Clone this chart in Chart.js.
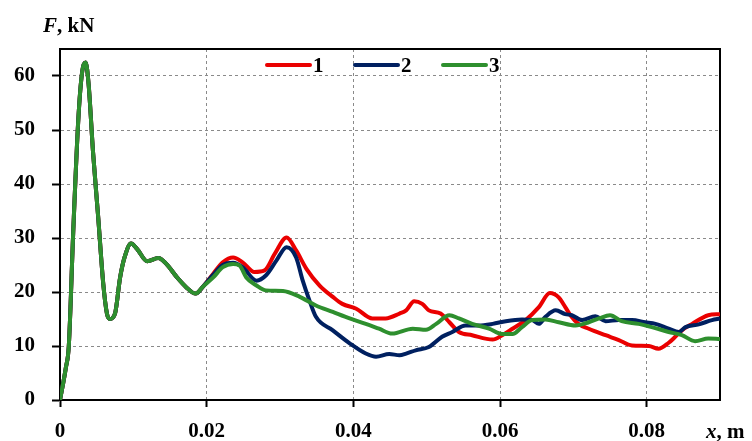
<!DOCTYPE html>
<html>
<head>
<meta charset="utf-8">
<script src="https://cdn.jsdelivr.net/npm/chart.js@4/dist/chart.umd.min.js"></script>
<style>
  html, body { margin: 0; padding: 0; background: #fff; }
  #wrap { width: 752px; height: 441px; }
</style>
</head>
<body>
<div id="wrap"><canvas id="c" width="752" height="441"></canvas></div>
<script>
// ---- data ----
const seriesNames = ['1', '2', '3'];
const seriesColors = ['#ea0000', '#002060', '#2e8f2e'];

// shared beginning of all three curves
const commonX = [0, 0.0008, 0.0012, 0.0018, 0.0025, 0.003, 0.0035, 0.0039, 0.0045, 0.0052, 0.0059, 0.0064, 0.0068, 0.0075, 0.0082, 0.0088, 0.0097, 0.0105, 0.0119, 0.0134, 0.0145, 0.0159, 0.0172, 0.0185, 0.0195];
const commonF = [0, 6, 10, 31, 52, 60.5, 62.5, 58.5, 46, 34, 21.5, 16, 15, 16, 22.7, 26.4, 29, 28, 25.7, 26.3, 25.2, 22.8, 20.9, 19.7, 21];

// curve 1 (red)
const x1 = [0.0209, 0.0222, 0.0236, 0.0249, 0.0265, 0.0279, 0.0293, 0.0309, 0.0322, 0.0336, 0.0354, 0.0372, 0.0385, 0.0404, 0.0426, 0.0444, 0.0463, 0.0472, 0.0483, 0.0494, 0.0503, 0.0519, 0.0531, 0.0544, 0.0562, 0.059, 0.0603, 0.0617, 0.0635, 0.0653, 0.0668, 0.068, 0.0689, 0.0696, 0.0707, 0.0721, 0.0744, 0.0762, 0.078, 0.0803, 0.0816, 0.083, 0.0839, 0.0848, 0.0862, 0.0884, 0.09];
const f1 = [23.4, 25.5, 26.4, 25.5, 23.7, 24, 27.1, 30.1, 27.7, 24.3, 21.2, 19.1, 17.8, 16.9, 15.1, 15.1, 16, 16.6, 18.3, 17.8, 16.6, 16, 14.4, 12.6, 12, 11.2, 12, 13.2, 14.8, 17.2, 19.8, 19, 17.2, 15.7, 14.1, 13.2, 12, 11.1, 10.1, 10, 9.5, 10.6, 11.7, 12.9, 14.1, 15.7, 15.9];

// curve 2 (blue)
const x2 = [0.0209, 0.0222, 0.0236, 0.0249, 0.0268, 0.0281, 0.0295, 0.0309, 0.0322, 0.0331, 0.034, 0.0349, 0.0372, 0.0395, 0.0417, 0.0431, 0.0449, 0.0463, 0.0472, 0.0485, 0.0503, 0.0521, 0.0535, 0.0553, 0.0571, 0.059, 0.0608, 0.063, 0.0644, 0.0653, 0.0662, 0.0676, 0.0689, 0.0698, 0.0712, 0.073, 0.0744, 0.0762, 0.078, 0.0798, 0.0812, 0.083, 0.0844, 0.0853, 0.0871, 0.0889, 0.09];
const f2 = [23.2, 25, 25.4, 24.6, 22.1, 23.1, 25.8, 28.3, 26.4, 22.1, 18.5, 15.4, 12.9, 10.5, 8.6, 8.0, 8.5, 8.3, 8.6, 9.2, 9.8, 11.7, 12.6, 13.8, 13.8, 14.1, 14.6, 14.9, 14.8, 14.1, 15.4, 16.6, 15.9, 15.7, 14.8, 15.5, 14.6, 14.8, 14.8, 14.4, 14.1, 13.2, 12.6, 13.5, 14, 14.8, 15.1];

// curve 3 (green)
const x3 = [0.0209, 0.0222, 0.0236, 0.0245, 0.0254, 0.0268, 0.0281, 0.0304, 0.0327, 0.0349, 0.0372, 0.0395, 0.0417, 0.0435, 0.0453, 0.0481, 0.0499, 0.0513, 0.0531, 0.0544, 0.0562, 0.0585, 0.0603, 0.0617, 0.063, 0.0644, 0.0662, 0.068, 0.0703, 0.0721, 0.0735, 0.075, 0.0766, 0.0789, 0.0807, 0.083, 0.0848, 0.0866, 0.0884, 0.09];
const f3 = [22.7, 24.6, 25.2, 24.9, 22.7, 21.2, 20.3, 20.2, 19.1, 17.5, 16.3, 15.1, 14.1, 13.2, 12.3, 13.2, 13, 14.1, 15.7, 15.1, 14.1, 13.2, 12.2, 12.2, 13.5, 14.8, 14.9, 14.4, 13.8, 14.4, 15.1, 15.7, 14.6, 14.1, 13.5, 12.6, 12, 10.9, 11.4, 11.3];

const xTicks = [0, 0.02, 0.04, 0.06, 0.08];
const yTicks = [0, 10, 20, 30, 40, 50, 60];
const yLabel = ['F', ', kN'];
const xLabel = ['x', ', m'];

// ---- build ----
function pts(xs, ys) {
  const a = commonX.map((x, i) => ({ x: x, y: commonF[i] }));
  return a.concat(xs.map((x, i) => ({ x: x, y: ys[i] })));
}
const seriesData = [pts(x1, f1), pts(x2, f2), pts(x3, f3)];

const FONT = "'Liberation Serif', 'Times New Roman', serif";

const framePlugin = {
  id: 'frame',
  beforeDatasetsDraw(chart) {
    const { ctx, chartArea: a } = chart;
    ctx.save();
    ctx.strokeStyle = '#000';
    ctx.lineWidth = 2;
    ctx.strokeRect(a.left, a.top, a.right - a.left, a.bottom - a.top);
    ctx.restore();
  },
  afterDraw(chart) {
    const { ctx, chartArea: a } = chart;
    ctx.save();
    // legend inside plot area
    const startX = a.left + 207, lineLen = 43, step = 88, ly = a.top + 16;
    seriesNames.forEach((n, i) => {
      const x0 = startX + i * step;
      ctx.strokeStyle = seriesColors[i];
      ctx.lineWidth = 4;
      ctx.lineCap = 'round';
      ctx.beginPath();
      ctx.moveTo(x0, ly);
      ctx.lineTo(x0 + lineLen, ly);
      ctx.stroke();
      ctx.fillStyle = '#000';
      ctx.font = 'bold 21px ' + FONT;
      ctx.textBaseline = 'alphabetic';
      ctx.textAlign = 'left';
      ctx.fillText(n, x0 + lineLen + 3, ly + 7);
    });
    // axis labels
    ctx.fillStyle = '#000';
    ctx.textAlign = 'left';
    ctx.textBaseline = 'alphabetic';
    let x = 43;
    ctx.font = 'italic bold 21px ' + FONT;
    ctx.fillText(yLabel[0], x, 32);
    x += ctx.measureText(yLabel[0]).width;
    ctx.font = 'bold 21px ' + FONT;
    ctx.fillText(yLabel[1], x, 32);

    x = 706;
    ctx.font = 'italic bold 21px ' + FONT;
    ctx.fillText(xLabel[0], x, 438);
    x += ctx.measureText(xLabel[0]).width;
    ctx.font = 'bold 21px ' + FONT;
    ctx.fillText(xLabel[1], x, 438);
    ctx.restore();
  }
};

new Chart(document.getElementById('c'), {
  type: 'line',
  data: {
    datasets: seriesData.map((d, i) => ({
      label: seriesNames[i],
      data: d,
      borderColor: seriesColors[i],
      backgroundColor: seriesColors[i],
      borderWidth: 4,
      pointRadius: 0,
      fill: false,
      cubicInterpolationMode: 'monotone',
      order: 3 - i
    }))
  },
  options: {
    responsive: false,
    animation: false,
    events: [],
    layout: { padding: { left: 0, top: 49, right: 32, bottom: 0 } },
    plugins: { legend: { display: false }, tooltip: { enabled: false } },
    scales: {
      x: {
        type: 'linear',
        min: 0, max: 0.09,
        afterFit: s => { s.height = 41; },
        afterBuildTicks: s => { s.ticks = xTicks.map(v => ({ value: v })); },
        ticks: {
          autoSkip: false, maxRotation: 0, padding: 12,
          color: '#000',
          font: { family: FONT, size: 21, weight: 'bold' },
          callback: v => (Math.abs(v) < 1e-9 ? '0' : Number(v).toFixed(2))
        },
        grid: { color: '#8a8a8a', lineWidth: 1, tickLength: 7, tickColor: '#000', tickWidth: 2, tickBorderDash: [] },
        border: { display: true, color: '#000', width: 2, dash: [3, 3] }
      },
      y: {
        min: 0, max: 65,
        afterFit: s => { s.width = 60; },
        afterBuildTicks: s => { s.ticks = yTicks.map(v => ({ value: v })); },
        ticks: {
          padding: 17, color: '#000',
          font: { family: FONT, size: 21, weight: 'bold' }
        },
        grid: { color: '#8a8a8a', lineWidth: 1, tickLength: 8, tickColor: '#000', tickWidth: 2, tickBorderDash: [] },
        border: { display: true, color: '#000', width: 2, dash: [3, 3] }
      }
    }
  },
  plugins: [framePlugin]
});
</script>
</body>
</html>
